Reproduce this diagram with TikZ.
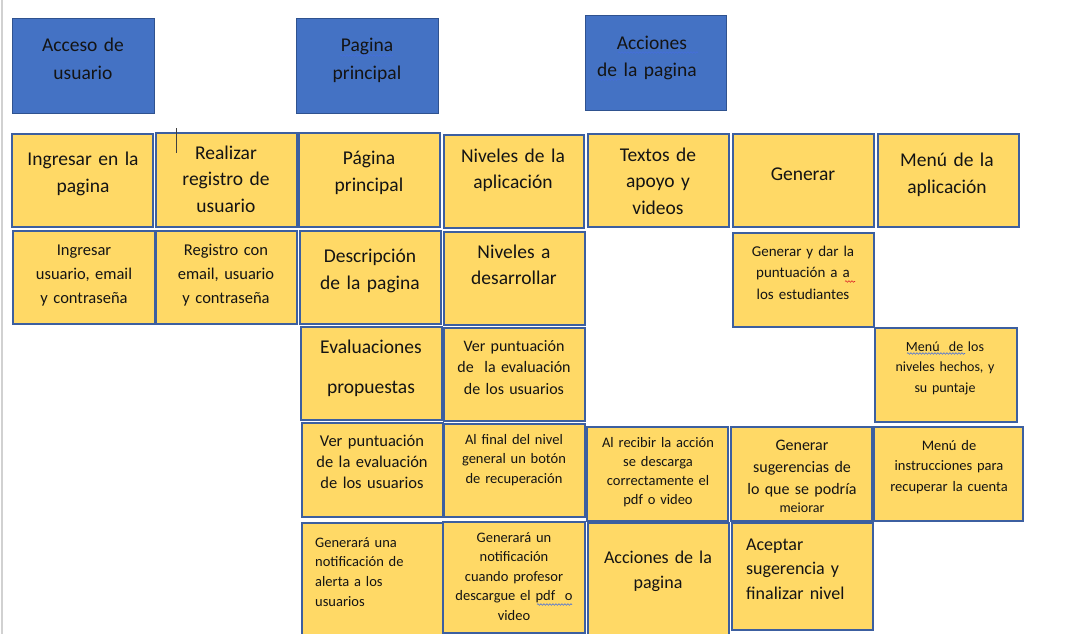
\documentclass[tikz,border=0pt]{standalone}
\usepackage{fontspec}
\setmainfont{Carlito}
\usetikzlibrary{decorations.pathmorphing}
\definecolor{hblue}{RGB}{68,114,196}
\definecolor{hbord}{RGB}{47,82,143}
\definecolor{yfill}{RGB}{255,217,102}
\definecolor{ybord}{RGB}{60,95,160}
\definecolor{txt}{RGB}{20,20,20}
\definecolor{spellb}{RGB}{70,110,220}
\definecolor{spellr}{RGB}{220,40,40}
\begin{document}
\begin{tikzpicture}[x=1pt,y=-1pt,
  bbox/.style={draw=hbord,fill=hblue,line width=1pt},
  ybox/.style={draw=ybord,fill=yfill,line width=1.2pt},
  tL/.style={inner sep=0pt,text width=140pt,align=center,anchor=base,text=txt,font=\fontsize{19.5}{27.5}\selectfont},
  tM/.style={inner sep=0pt,text width=140pt,align=center,anchor=base,text=txt,font=\fontsize{16.5}{23}\selectfont},
  tS/.style={inner sep=0pt,text width=140pt,align=center,anchor=base,text=txt,font=\fontsize{14.5}{19.7}\selectfont},
  squig/.style={decorate,decoration={snake,segment length=3pt,amplitude=0.8pt},line width=0.6pt}]
\useasboundingbox (0,0) rectangle (1065,634);
\clip (0,0) rectangle (1065,634);
\fill[white] (0,0) rectangle (1065,634);
\draw[line width=2pt,black!18] (1.5,0) -- (1.5,634);

% blue header boxes
\draw[bbox] (12,19) rectangle (154,113) node[pos=.5,coordinate] (B1) {};
\draw[bbox] (296,19) rectangle (438,113) node[pos=.5,coordinate] (B2) {};
\draw[bbox] (585,16) rectangle (726,110) node[pos=.5,coordinate] (B3) {};
\node[tL] (tB1) at (83,52) {Acceso de\\usuario};
\node[tL] (tB2) at (367,52) {Pagina\\principal};
\node[tL,font=\fontsize{19.5}{27}\selectfont] (tB3a) at (652,49) {Acciones};
\node[tL] (tB3b) at (647,76) {de la pagina};

% row 1
\draw[ybox] (12,134) rectangle (153,227) node[pos=.5,coordinate] (a1) {};
\draw[ybox] (156,133) rectangle (297,227) node[pos=.5,coordinate] (a2) {};
\draw[ybox] (299,133) rectangle (440,227) node[pos=.5,coordinate] (a3) {};
\draw[ybox] (444,135) rectangle (584,228) node[pos=.5,coordinate] (a4) {};
\draw[ybox] (588,134) rectangle (729,227) node[pos=.5,coordinate] (a5) {};
\draw[ybox] (733,134) rectangle (874,227) node[pos=.5,coordinate] (a6) {};
\draw[ybox] (878,134) rectangle (1019,227) node[pos=.5,coordinate] (a7) {};
\node[tL] (ta1) at (83,165) {Ingresar en la\\pagina};
\node[tL,font=\fontsize{19.5}{26.8}\selectfont] (ta2) at (226,159) {Realizar\\registro de\\usuario};
\node[tL] (ta3) at (369,164) {Página\\principal};
\node[tL,font=\fontsize{19.5}{26.5}\selectfont] (ta4) at (513,162) {Niveles de la\\aplicación};
\node[tL,font=\fontsize{19.5}{26.5}\selectfont] (ta5) at (658,161) {Textos de\\apoyo y\\videos};
\node[tL] (ta6) at (803,180) {Generar};
\node[tL] (ta7) at (947,166) {Menú de la\\aplicación};

% row 2
\draw[ybox] (13,231) rectangle (155,324) node[pos=.5,coordinate] (b1) {};
\draw[ybox] (156,231) rectangle (297,324) node[pos=.5,coordinate] (b2) {};
\draw[ybox] (300,231) rectangle (441,324) node[pos=.5,coordinate] (b3) {};
\draw[ybox] (444,232) rectangle (585,325) node[pos=.5,coordinate] (b4) {};
\draw[ybox] (733,233) rectangle (874,327) node[pos=.5,coordinate] (b6) {};
\node[tM,font=\fontsize{16.5}{24}\selectfont] (tb1) at (84,255) {Ingresar\\usuario, email\\y contraseña};
\node[tM,font=\fontsize{16.5}{24}\selectfont] (tb2) at (226,255) {Registro con\\email, usuario\\y contraseña};
\node[tL] (tb3) at (370,262) {Descripción\\de la pagina};
\node[tL,font=\fontsize{19.5}{26}\selectfont] (tb4) at (514,258) {Niveles a\\desarrollar};
\node[tS,font=\fontsize{15}{21.5}\selectfont] (tb6) at (803,256) {Generar y dar la\\puntuación a a\\los estudiantes};

% row 3
\draw[ybox] (301,327) rectangle (442,420) node[pos=.5,coordinate] (c3) {};
\draw[ybox] (444,328) rectangle (585,421) node[pos=.5,coordinate] (c4) {};
\draw[ybox] (875,328) rectangle (1017,422) node[pos=.5,coordinate] (c7) {};
\node[tL,font=\fontsize{19.5}{40}\selectfont] (tc3) at (371,353) {Evaluaciones\\propuestas};
\node[tM,font=\fontsize{16}{21.5}\selectfont] (tc4) at (514,351) {Ver puntuación\\de~ la evaluación\\de los usuarios};
\node[tS,font=\fontsize{14}{20.5}\selectfont] (tc7) at (945,351) {Menú~ de los\\niveles hechos, y\\su puntaje};

% row 4
\draw[ybox] (302,423) rectangle (443,517) node[pos=.5,coordinate] (d3) {};
\draw[ybox] (444,424) rectangle (585,517) node[pos=.5,coordinate] (d4) {};
\draw[ybox] (587,427) rectangle (728,521) node[pos=.5,coordinate] (d5) {};
\draw[ybox] (731,427) rectangle (872,521) node[pos=.5,coordinate] (d6) {};
\draw[ybox] (874,427) rectangle (1023,521) node[pos=.5,coordinate] (d7) {};
\node[tM,font=\fontsize{16.5}{21.3}\selectfont] (td3) at (372,446) {Ver puntuación\\de la evaluación\\de los usuarios};
\node[tS] (td4) at (514,444) {Al final del nivel\\general un botón\\de recuperación};
\node[tS,font=\fontsize{14.5}{19}\selectfont] (td5) at (658,447) {Al recibir la acción\\se descarga\\correctamente el\\pdf o video};
\node[tS,font=\fontsize{16}{22}\selectfont] (td6) at (802,450) {Generar\\sugerencias de\\lo que se podría};
\node[tS,font=\fontsize{14}{19}\selectfont] (td6b) at (802,512) {meiorar};
\node[tS,font=\fontsize{14.5}{20.5}\selectfont] (td7) at (949,450) {Menú de\\instrucciones para\\recuperar la cuenta};

% row 5
\draw[ybox] (302,523) rectangle (443,645) node[pos=.5,coordinate] (e3) {};
\draw[ybox] (443,522) rectangle (585,633) node[pos=.5,coordinate] (e4) {};
\draw[ybox] (588,523) rectangle (729,645) node[pos=.5,coordinate] (e5) {};
\draw[ybox] (732,523) rectangle (873,630) node[pos=.5,coordinate] (e6) {};
\node[tS,align=left,anchor=base west,text width=125pt,font=\fontsize{14.5}{19.7}\selectfont] (te3) at (315,547) {Generará una\\notificación de\\alerta a los\\usuarios};
\node[tS,font=\fontsize{14.5}{19.6}\selectfont] (te4) at (514,542) {Generará un\\notificación\\cuando profesor\\descargue el pdf~ o\\video};
\node[tL,font=\fontsize{18}{25}\selectfont] (te5) at (658,563) {Acciones de la\\pagina};
\node[tL,align=left,anchor=base west,text width=125pt,font=\fontsize{18}{24.5}\selectfont] (te6) at (746,550) {Aceptar\\sugerencia y\\finalizar nivel};

% spell-check marks and cursor
\draw[squig,spellb] (340,55.5) -- (393,55.5);
\draw[squig,spellb] (618,52.5) -- (698,52.5);
\draw[squig,spellb] (599,79.5) -- (620,79.5);
\draw[squig,spellr] (845,281.5) -- (855,281.5);
\draw[squig,spellb] (907,353.5) -- (965,353.5);
\draw[squig,spellb] (537,604.5) -- (572,604.5);
\coordinate (cur1) at (176.5,128);
\coordinate (cur2) at (176.5,153);
\draw[line width=0.8pt,black!75] (cur1) -- (cur2);
\end{tikzpicture}
\end{document}
